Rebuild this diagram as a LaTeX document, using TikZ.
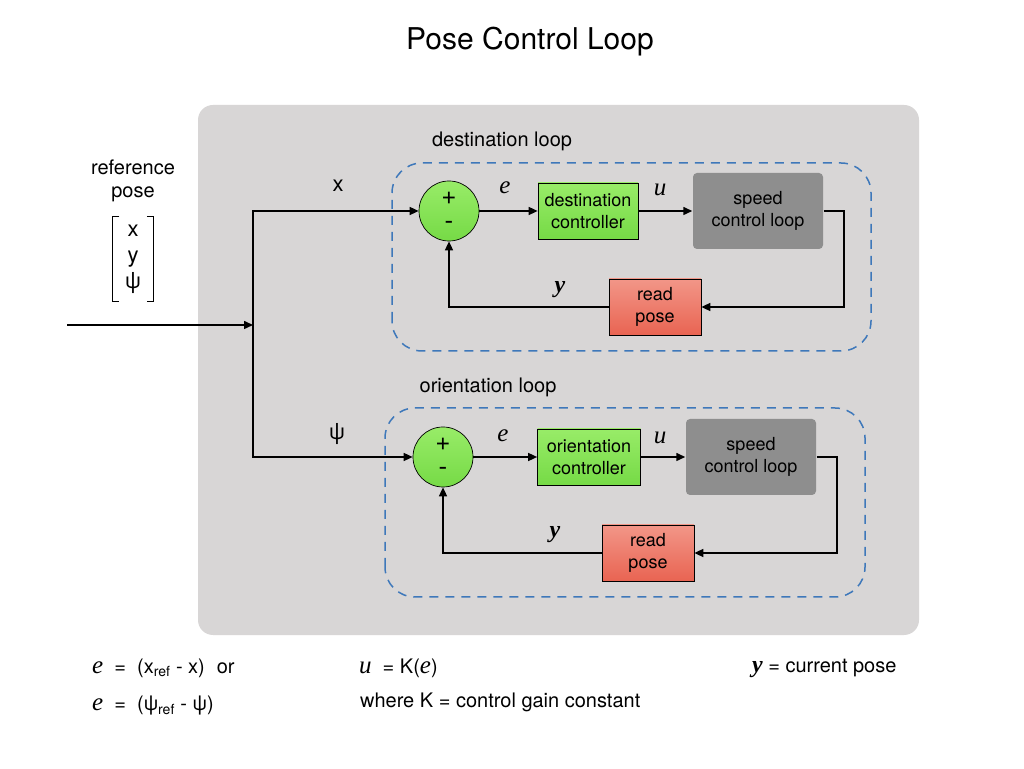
\documentclass[tikz,border=0pt]{standalone}
\usepackage{fontspec}
\setmainfont{TeX Gyre Heros}
\newfontfamily\varfont{Liberation Serif}
\usepackage{xcolor}
\usepackage{tikz}
\usetikzlibrary{arrows.meta}
\usetikzlibrary{calc}
\usetikzlibrary{positioning}

\definecolor{panelgray}{RGB}{216,214,214}
\definecolor{loopblue}{RGB}{62,120,186}
\definecolor{speedgray}{RGB}{142,142,142}
\definecolor{ctrltop}{RGB}{152,236,104}
\definecolor{ctrlbottom}{RGB}{118,218,70}
\definecolor{readtop}{RGB}{242,150,136}
\definecolor{readbottom}{RGB}{233,100,82}

\newcommand{\errsym}{{\varfont\itshape\fontsize{25pt}{25pt}\selectfont e}}
\newcommand{\ctrlsym}{{\varfont\itshape\fontsize{25pt}{25pt}\selectfont u}}
\newcommand{\outsym}{{\varfont\bfseries\itshape\fontsize{24pt}{24pt}\selectfont y}}

\begin{document}
\begin{tikzpicture}[
		x=1pt,
		y=1pt,
		font=\fontsize{18pt}{22pt}\selectfont,
		>={Triangle[length=9,width=8]},
		line width=1.5,
	]
		\tikzset{sumnode/.style={
			draw,
			circle,
			line width=0.7,
			minimum size=60,
			inner sep=0,
			top color=ctrltop,
			bottom color=ctrlbottom,
			align=center,
			font=\fontsize{26pt}{25pt}\selectfont,
		}}
		\tikzset{ctrlbox/.style={
			draw,
			rectangle,
			line width=0.7,
			minimum height=56,
			inner sep=2,
			top color=ctrltop,
			bottom color=ctrlbottom,
			align=center,
		}}
		\tikzset{speedbox/.style={
			rectangle,
			rounded corners=4,
			minimum width=130,
			minimum height=76,
			fill=speedgray,
			align=center,
		}}
		\tikzset{readbox/.style={
			draw,
			rectangle,
			line width=0.7,
			minimum width=92,
			minimum height=56,
			top color=readtop,
			bottom color=readbottom,
			align=center,
		}}
		\tikzset{loopframe/.style={
			draw=loopblue,
			line width=1.5,
			rounded corners=30,
			dash pattern=on 9 off 7,
		}}
		\tikzset{siglabel/.style={
			font=\fontsize{22pt}{26pt}\selectfont,
		}}
		\tikzset{notetext/.style={
			anchor=west,
			font=\fontsize{20pt}{24pt}\selectfont,
		}}

		\useasboundingbox (0,0) rectangle (1024,768);
		\fill[white] (0,0) rectangle (1024,768);

		\node[font=\fontsize{30pt}{32pt}\selectfont] (title) at (530,726) {Pose Control Loop};

		\fill[panelgray, rounded corners=15] (198,133) rectangle (919,663);

		%---------------------------------
		% Reference
		\node[
			align=center,
			font=\fontsize{20pt}{23pt}\selectfont,
		] (reflabel) at (133,587) {reference\\pose};
		\node[
			siglabel,
			align=center,
			minimum width=40,
			minimum height=83,
			inner sep=0,
		] (refvec) at (133,509) {x\\y\\ψ};
		\draw[line width=1.3] ([xshift=7]refvec.north west) -- (refvec.north west) -- (refvec.south west) -- ++(7,0);
		\draw[line width=1.3] ([xshift=-7]refvec.north east) -- (refvec.north east) -- (refvec.south east) -- ++(-7,0);

		\coordinate (refin) at (67,443);
		\coordinate (split) at (253,443);
		\draw[->] (refin) -- (split);

		%---------------------------------
		% Destination loop
		\draw[loopframe] (392,417) rectangle (871,605);
		\node[font=\fontsize{20pt}{24pt}\selectfont] (destlabel) at (502,627) {destination loop};

		\node[sumnode] (sum1) at (449,557) {+\\-};
		\node[
			ctrlbox,
			minimum width=100,
		] (dest) at (588,557) {destination\\controller};
		\node[speedbox] (speed1) at (758,557) {speed\\control loop};
		\node[readbox] (read1) at (655,461) {read\\pose};

		\draw[->] (split) |- (sum1.west);
		\draw[->] (sum1) -- (dest);
		\draw[->] (dest) -- (speed1);
		\draw[->] (speed1.east) -- ++(20,0) |- (read1.east);
		\draw[->] (read1.west) -| (sum1.south);

		\node[siglabel] (xsig) at (338,582) {x};
		\node (esig1) at (505,580) {\errsym};
		\node (usig1) at (660,578) {\ctrlsym};
		\node (ysig1) at (560,478) {\outsym};

		%---------------------------------
		% Orientation loop
		\draw[loopframe] (385,171) rectangle (865,360);
		\node[font=\fontsize{20pt}{24pt}\selectfont] (orientlabel) at (488,381) {orientation loop};

		\node[sumnode] (sum2) at (443,311) {+\\-};
		\node[
			ctrlbox,
			minimum width=103,
		] (orient) at (589,311) {orientation\\controller};
		\node[speedbox] (speed2) at (751,311) {speed\\control loop};
		\node[readbox] (read2) at (648,215) {read\\pose};

		\draw[->] (split) |- (sum2.west);
		\draw[->] (sum2) -- (orient);
		\draw[->] (orient) -- (speed2);
		\draw[->] (speed2.east) -- ++(20,0) |- (read2.east);
		\draw[->] (read2.west) -| (sum2.south);

		\node[siglabel] (psisig) at (337,334) {ψ};
		\node (esig2) at (503,332) {\errsym};
		\node (usig2) at (660,330) {\ctrlsym};
		\node (ysig2) at (555,233) {\outsym};

		%---------------------------------
		% Notes
		\node[notetext] (erreqx) at (88,100) {\errsym\ \ =\ \ (x\textsubscript{ref} - x)\hspace{12pt}or};
		\node[notetext] (erreqpsi) at (88,62) {\errsym\ \ =\ \ (ψ\textsubscript{ref} - ψ)};
		\node[notetext] (ctrleq) at (355,100) {\ctrlsym\ \ =\ K(\errsym)};
		\node[notetext] (gainnote) at (356,66) {where K = control gain constant};
		\node[notetext] (outnote) at (748,100) {\outsym\ = current pose};
	\end{tikzpicture}
\end{document}
